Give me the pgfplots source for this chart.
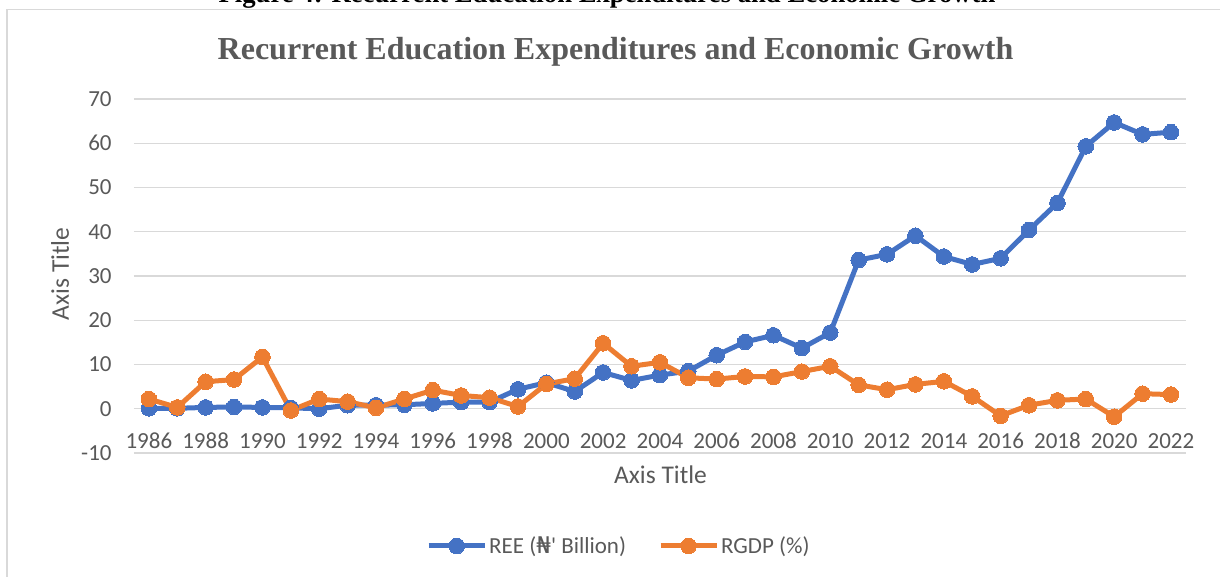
\documentclass[border=0pt]{standalone}
\usepackage{pgfplots}
\pgfplotsset{compat=1.18}
\usepackage{fontspec}
\setmainfont{Carlito}
\newfontfamily\titlefont{Liberation Serif}
\newfontfamily\nairafont{DejaVu Sans}
\definecolor{reeblue}{HTML}{4472C4}
\definecolor{rgdporange}{HTML}{ED7D31}
\definecolor{gridgray}{HTML}{D9D9D9}
\definecolor{textgray}{HTML}{595959}

\pgfplotstableread{
year ree
1986 0.1
1987 0.1
1988 0.3
1989 0.4
1990 0.3
1991 0.2
1992 0.0
1993 0.8
1994 0.8
1995 0.9
1996 1.2
1997 1.5
1998 1.5
1999 4.4
2000 5.9
2001 3.9
2002 8.2
2003 6.4
2004 7.6
2005 8.5
2006 12.1
2007 15.1
2008 16.6
2009 13.7
2010 17.2
2011 33.6
2012 34.9
2013 39.1
2014 34.4
2015 32.6
2016 34.0
2017 40.4
2018 46.5
2019 59.3
2020 64.7
2021 62.0
2022 62.5
}\reetable

\pgfplotstableread{
year rgdp
1986 2.2
1987 0.3
1988 6.1
1989 6.6
1990 11.7
1991 -0.4
1992 2.2
1993 1.6
1994 0.2
1995 2.2
1996 4.2
1997 3.0
1998 2.5
1999 0.5
2000 5.6
2001 6.8
2002 14.8
2003 9.6
2004 10.5
2005 7.0
2006 6.7
2007 7.3
2008 7.2
2009 8.4
2010 9.6
2011 5.4
2012 4.3
2013 5.5
2014 6.2
2015 2.8
2016 -1.6
2017 0.8
2018 1.9
2019 2.2
2020 -1.8
2021 3.4
2022 3.2
}\rgdptable

\begin{document}
\begin{tikzpicture}[x=1pt,y=1pt]
\useasboundingbox (0pt,0pt) rectangle (1220pt,577pt);
% chart frame
\draw[gridgray, line width=1.2pt] (7pt,-30pt) -- (7pt,567.5pt) -- (1250pt,567.5pt);
% cut-off figure caption
\node[anchor=base, font=\titlefont\bfseries\fontsize{26.7}{30}\selectfont, text=black] at (607pt,574pt) {Figure 4: Recurrent Education Expenditures and Economic Growth};
% chart title
\node[anchor=base, font=\titlefont\bfseries\fontsize{32}{36}\selectfont, text=textgray] at (615.5pt,517pt) {Recurrent Education Expenditures and Economic Growth};
% axis titles
\node[font=\fontsize{25.5}{30}\selectfont, text=textgray] at (660.5pt,102pt) {Axis Title};
\node[font=\fontsize{25.5}{30}\selectfont, text=textgray, rotate=90] at (60pt,303pt) {Axis Title};

\begin{axis}[
  at={(133.8pt,124pt)}, anchor=south west,
  scale only axis, width=1052.2pt, height=354pt,
  xmin=1985.47, xmax=2022.53,
  ymin=-10, ymax=70,
  ytick={-10,0,...,70},
  xtick={1986,1988,...,2022},
  axis line style={draw=none},
  tick style={draw=none},
  ymajorgrids,
  major grid style={gridgray, line width=1.2pt},
  /pgf/number format/1000 sep={},
  /pgf/number format/assume math mode=true,
  ticklabel style={font=\fontsize{23}{27}\selectfont, text=textgray},
  xticklabel style={anchor=base, inner sep=0pt, yshift=4.5pt},
  yticklabel style={anchor=east, inner sep=0pt, xshift=-22pt},
  legend style={at={(0.461,-0.2627)}, anchor=center, draw=none, fill=none,
    font=\fontsize{23}{27}\selectfont, text=textgray,
    nodes={inner sep=2pt},
    /tikz/every even column/.append style={column sep=30pt}},
  legend columns=2,
  legend image code/.code={
    \draw[mark repeat=2, mark phase=2, #1] plot coordinates {(0pt,0pt) (28pt,0pt) (56pt,0pt)};
  },
]
\addplot[reeblue, line width=5pt, mark=*, mark size=7.8pt, mark options={solid, fill=reeblue, draw=reeblue, line width=0pt}] table[x=year, y=ree] {\reetable};
\addlegendentry{REE ({\nairafont ₦}\textquotesingle{} Billion)}
\addplot[rgdporange, line width=5pt, mark=*, mark size=7.8pt, mark options={solid, fill=rgdporange, draw=rgdporange, line width=0pt}] table[x=year, y=rgdp] {\rgdptable};
\addlegendentry{RGDP (\%)}
\end{axis}
\end{tikzpicture}
\end{document}
